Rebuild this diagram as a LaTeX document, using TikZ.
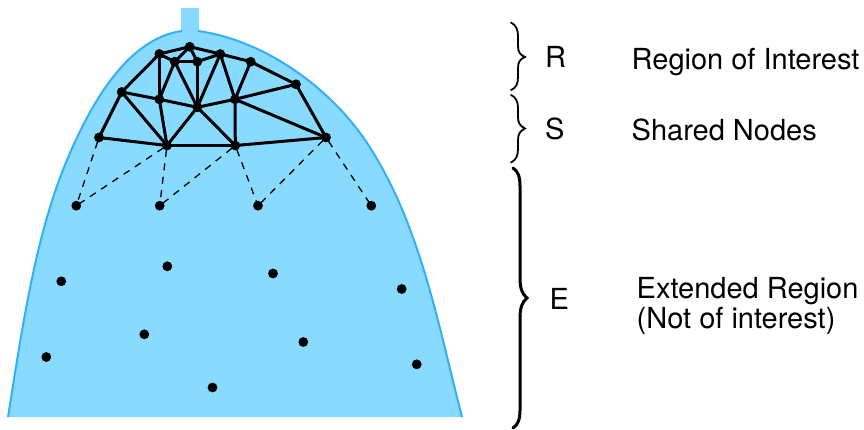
\documentclass[tikz,border=0pt]{standalone}
\usepackage{fontspec}
\setmainfont{TeX Gyre Heros}
\definecolor{fillblue}{HTML}{88DBFF}
\definecolor{lineblue}{HTML}{33AEFA}
\tikzset{
  px/.style={x=1pt,y=-1pt},
  dot/.style={circle,fill=black,inner sep=0pt,minimum size=9.8pt},
  mesh/.style={black,line width=3pt},
  link/.style={black,line width=1.3pt,dash pattern=on 7pt off 6.5pt,dash phase=9pt},
  lab/.style={anchor=base west,inner sep=0pt,font=\fontsize{29}{34}\selectfont},
  brace/.style={black,line width=1.8pt,line cap=round},
  bigbrace/.style={black,line width=3pt,line cap=round}
}
\begin{document}
\begin{tikzpicture}[px]
\useasboundingbox (0,0) rectangle (864,429);
% body
\fill[fillblue] (181,8) rectangle (199,34);
\fill[fillblue] (8,417) .. controls (22,330) and (35,236) .. (67,160)
  .. controls (93,98) and (130,38) .. (182,31) -- (198,31)
  .. controls (263,40) and (326,85) .. (363,137)
  .. controls (419,218) and (437,320) .. (462,417) -- cycle;
\draw[lineblue,line width=2pt] (8,417) .. controls (22,330) and (35,236) .. (67,160)
  .. controls (93,98) and (130,38) .. (182,31);
\draw[lineblue,line width=2pt] (198,31) .. controls (263,40) and (326,85) .. (363,137)
  .. controls (419,218) and (437,320) .. (462,417);
% mesh nodes
\node[dot] (a1) at (99,137.5) {};
\node[dot] (a2) at (167,145.5) {};
\node[dot] (a3) at (235.3,145.5) {};
\node[dot] (a4) at (326,137.5) {};
\node[dot] (b1) at (121.7,92) {};
\node[dot] (b2) at (159.3,99.3) {};
\node[dot] (b3) at (197.3,107.3) {};
\node[dot] (b4) at (235,99.3) {};
\node[dot] (b5) at (296,84.3) {};
\node[dot] (c1) at (159.3,54) {};
\node[dot] (c2) at (174.7,61.7) {};
\node[dot] (c3) at (189.7,46.7) {};
\node[dot] (c4) at (197.3,61.7) {};
\node[dot] (c5) at (220.3,54) {};
\node[dot] (c6) at (250.7,61.7) {};
\node[dot] (d1) at (76.3,205.7) {};
\node[dot] (d2) at (159.7,205.7) {};
\node[dot] (d3) at (258,205.7) {};
\node[dot] (d4) at (371.3,205.7) {};
\node[dot] (e1) at (61.3,281.3) {};
\node[dot] (e2) at (167.3,266.3) {};
\node[dot] (e3) at (273,273.5) {};
\node[dot] (e4) at (401.7,289) {};
\node[dot] (e5) at (144.3,334.3) {};
\node[dot] (e6) at (303.3,342) {};
\node[dot] (e7) at (416.7,364.3) {};
\node[dot] (e8) at (46.3,357) {};
\node[dot] (e9) at (212.5,387.5) {};
% mesh edges
\foreach \p/\q in {a1/a2,a2/a3,a3/a4,a1/b1,b1/a2,b1/b2,b2/a2,a2/b3,b3/a3,b3/b2,b3/b4,b4/a3,b4/a4,b4/b5,b5/a4,b1/c1,c1/b2,b2/c2,c1/c2,c1/c3,c3/c2,c2/c4,c3/c4,c3/c5,c4/c5,c2/b3,c4/b3,c5/b3,c5/b4,c5/c6,c6/b4,c6/b5}
  \draw[mesh] (\p.center) -- (\q.center);
% dashed links
\foreach \p/\q in {a1/d1,a2/d1,a2/d2,a3/d2,a3/d3,a4/d3,a4/d4}
  \draw[link] (\p.center) -- (\q.center);
% braces
\coordinate (rt) at (511,22.5); \coordinate (rm) at (525,57); \coordinate (rb) at (511,90);
\coordinate (st) at (511,95); \coordinate (sm) at (525,128.5); \coordinate (sb) at (511,162.5);
\coordinate (et) at (513,168); \coordinate (em) at (527,298); \coordinate (eb) at (513,428);
\draw[brace] (rt) .. controls (516,25) and (518,30) .. (518,36) -- (518,46) .. controls (518,52) and (520,55) .. (rm)
  .. controls (520,59) and (518,62) .. (518,68) -- (518,77) .. controls (518,84) and (516,88) .. (rb);
\draw[brace] (st) .. controls (516,97) and (518,102) .. (518,108) -- (518,117) .. controls (518,123) and (520,126) .. (sm)
  .. controls (520,131) and (518,134) .. (518,140) -- (518,149) .. controls (518,156) and (516,160) .. (sb);
\draw[bigbrace] (et) .. controls (518,171) and (520,177) .. (520,186) -- (520,278) .. controls (520,288) and (522,294) .. (em)
  .. controls (522,302) and (520,308) .. (520,318) -- (520,410) .. controls (520,419) and (518,425) .. (eb);
% labels
\node[lab] (lr) at (545,67.5) {R};
\node[lab] (ls) at (545,139) {S};
\node[lab] (le) at (549.5,309) {E};
\node[lab] (tr) at (631.5,69) {Region of Interest};
\node[lab] (ts) at (631.5,140) {Shared Nodes};
\node[lab] (te1) at (636.5,298) {Extended Region};
\node[lab] (te2) at (636.5,328) {(Not of interest)};
\end{tikzpicture}
\end{document}
